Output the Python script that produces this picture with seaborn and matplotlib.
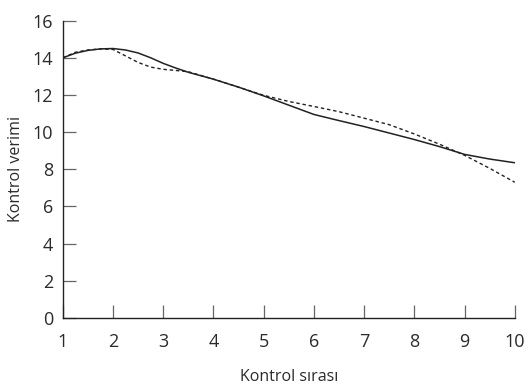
import matplotlib
matplotlib.use("Agg")
import matplotlib.pyplot as plt
import seaborn as sns
import pandas as pd

x_solid = [1.0, 1.25, 1.5, 1.75, 2.0, 2.25, 2.5, 2.75, 3.0, 3.25, 3.5, 4.0, 4.5, 5.0,
           5.5, 6.0, 6.5, 7.0, 7.5, 8.0, 8.5, 9.0, 9.5, 10.0]
y_solid = [14.0, 14.25, 14.4, 14.48, 14.5, 14.42, 14.26, 14.0, 13.7, 13.45, 13.22, 12.85,
           12.42, 11.95, 11.45, 10.95, 10.62, 10.3, 9.95, 9.6, 9.22, 8.8, 8.55, 8.35]
x_dash = [1.0, 1.25, 1.5, 1.75, 2.0, 2.25, 2.5, 2.75, 3.0, 3.25, 3.5, 4.0, 4.5, 5.0,
          5.5, 6.0, 6.5, 7.0, 7.5, 8.0, 8.5, 9.0, 9.5, 10.0]
y_dash = [14.0, 14.3, 14.42, 14.48, 14.45, 14.1, 13.75, 13.5, 13.38, 13.32, 13.25, 12.85,
          12.42, 11.98, 11.65, 11.38, 11.1, 10.75, 10.4, 9.9, 9.35, 8.75, 8.05, 7.3]
x_ticks = list(range(1, 11))
y_ticks = list(range(0, 17, 2))
x_label = "Kontrol sırası"
y_label = "Kontrol verimi"

sns.set_style("ticks")
plt.rcParams['font.family'] = ['Open Sans', 'DejaVu Sans']

fig = plt.figure(figsize=(5.28, 3.9), dpi=100)
ax = fig.add_axes([0.119, 0.185, 0.856, 0.762])

df_s = pd.DataFrame({"x": x_solid, "y": y_solid})
df_d = pd.DataFrame({"x": x_dash, "y": y_dash})
sns.lineplot(data=df_s, x="x", y="y", ax=ax, color="#222222", lw=1.1, sort=False)
sns.lineplot(data=df_d, x="x", y="y", ax=ax, color="#222222", lw=1.0, sort=False,
             dashes=False)
ax.lines[-1].set_dashes([2.5, 2.0])

ax.set_xlim(1, 10)
ax.set_ylim(0, 16)
ax.set_xticks(x_ticks)
ax.set_yticks(y_ticks)
ax.tick_params(direction="in", length=9.5, width=0.9, color="#666666",
               labelsize=13, labelcolor="#2a2a2a")
ax.tick_params(axis="x", pad=11)
ax.tick_params(axis="y", pad=7)
for s in ["top", "right"]:
    ax.spines[s].set_visible(False)
for s in ["left", "bottom"]:
    ax.spines[s].set_color("#222222")
    ax.spines[s].set_linewidth(1.0)
ax.set_xlabel(x_label, fontsize=11.5, color="#2a2a2a", labelpad=13)
ax.set_ylabel(y_label, fontsize=11.5, color="#2a2a2a", labelpad=6)

fig.savefig("out.png", dpi=100)
